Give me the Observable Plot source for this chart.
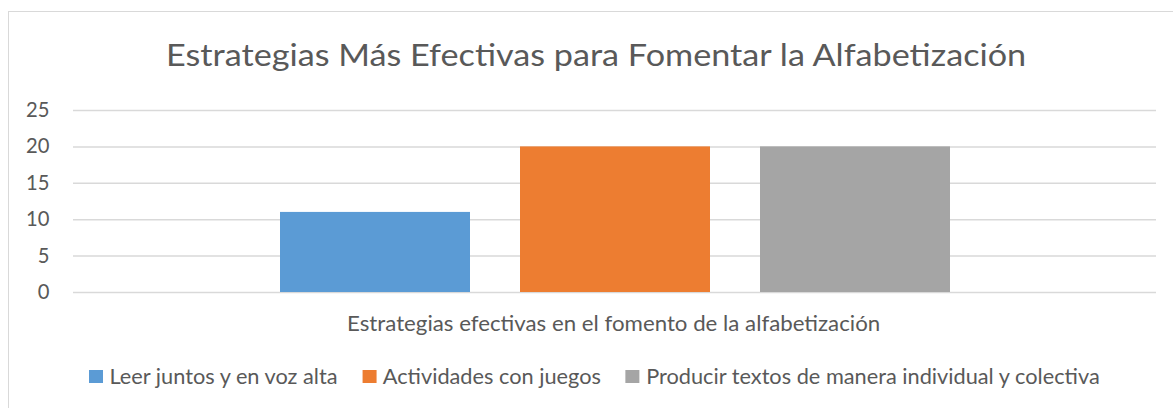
<!DOCTYPE html>
<html><head><meta charset="utf-8">
<script src="https://cdn.jsdelivr.net/npm/d3@7"></script>
<script src="https://cdn.jsdelivr.net/npm/@observablehq/plot@0.6"></script>
<style>
html,body{margin:0;padding:0;background:#fff;overflow:hidden;}
#root{position:relative;width:1173px;height:408px;overflow:hidden;font-family:Lato,sans-serif;color:#595959;}
#frame{position:absolute;left:8px;top:11px;width:1300px;height:600px;border:1px solid #d9d9d9;box-sizing:border-box;}
.txt{position:absolute;white-space:nowrap;line-height:1;transform-origin:0 0;}
#plot{position:absolute;left:0;top:90px;}
.legend{position:absolute;display:flex;align-items:center;white-space:nowrap;line-height:1;transform-origin:0 50%;}
.sw{display:inline-block;width:13px;height:13px;margin-right:6px;flex:none;}
.item{display:flex;align-items:center;margin-right:23px;}
.item:last-child{margin-right:0;}
</style></head><body><div id="root"><div id="frame"></div><div id="plot"></div></div>
<script>
const title = "Estrategias Más Efectivas para Fomentar la Alfabetización";
const xLabel = "Estrategias efectivas en el fomento de la alfabetización";
const series = ["Leer juntos y en voz alta", "Actividades con juegos", "Producir textos de manera individual y colectiva"];
const values = [11, 20, 20];
const colors = ["#5B9BD5", "#ED7D31", "#A5A5A5"];
const yTicks = [0, 5, 10, 15, 20, 25];

const data = series.map((s, i) => ({series: s, value: values[i]}));
const root = document.getElementById("root");
const ctx = document.createElement("canvas").getContext("2d");
function measure(text, size) { ctx.font = `${size}px Lato`; return ctx.measureText(text).width; }
function placeText(text, size, cx, baseline, targetW) {
  const el = document.createElement("div");
  el.className = "txt";
  el.textContent = text;
  el.style.fontSize = size + "px";
  const w = measure(text, size);
  el.style.left = (cx - targetW / 2) + "px";
  el.style.top = (baseline - 0.887 * size) + "px";
  el.style.transform = `scaleX(${targetW / w})`;
  root.appendChild(el);
}

placeText(title, 31.7, 596.7, 66.7, 862);

const plot = Plot.plot({
  width: 1173, height: 220,
  marginTop: 20, marginBottom: 18, marginLeft: 73, marginRight: 17,
  style: {fontFamily: "Lato", fontSize: "20.2px", color: "#595959", background: "transparent", overflow: "visible"},
  x: {domain: series, axis: null, paddingInner: 50 / 240, paddingOuter: 206 / 240},
  y: {domain: [0, 25], ticks: yTicks, tickSize: 0, tickPadding: 24, label: null},
  color: {domain: series, range: colors},
  marks: [
    Plot.ruleY(yTicks, {stroke: "#d9d9d9", strokeWidth: 1.5}),
    Plot.barY(data, {x: "series", y: "value", fill: "series"})
  ]
});
document.getElementById("plot").appendChild(plot);

placeText(xLabel, 20.2, 613.9, 330.7, 533.2);

const legend = document.createElement("div");
legend.className = "legend";
legend.style.fontSize = "20.2px";
series.forEach((s, i) => {
  const item = document.createElement("div");
  item.className = "item";
  const sw = document.createElement("span");
  sw.className = "sw";
  sw.style.background = colors[i];
  const t = document.createElement("span");
  t.textContent = s;
  item.appendChild(sw); item.appendChild(t);
  legend.appendChild(item);
});
root.appendChild(legend);
const lw = legend.getBoundingClientRect().width;
const lh = legend.getBoundingClientRect().height;
legend.style.left = "89.3px";
legend.style.top = (376.5 - lh / 2) + "px";
legend.style.transform = `scaleX(${(1100 - 89.3) / lw})`;
</script></body></html>
